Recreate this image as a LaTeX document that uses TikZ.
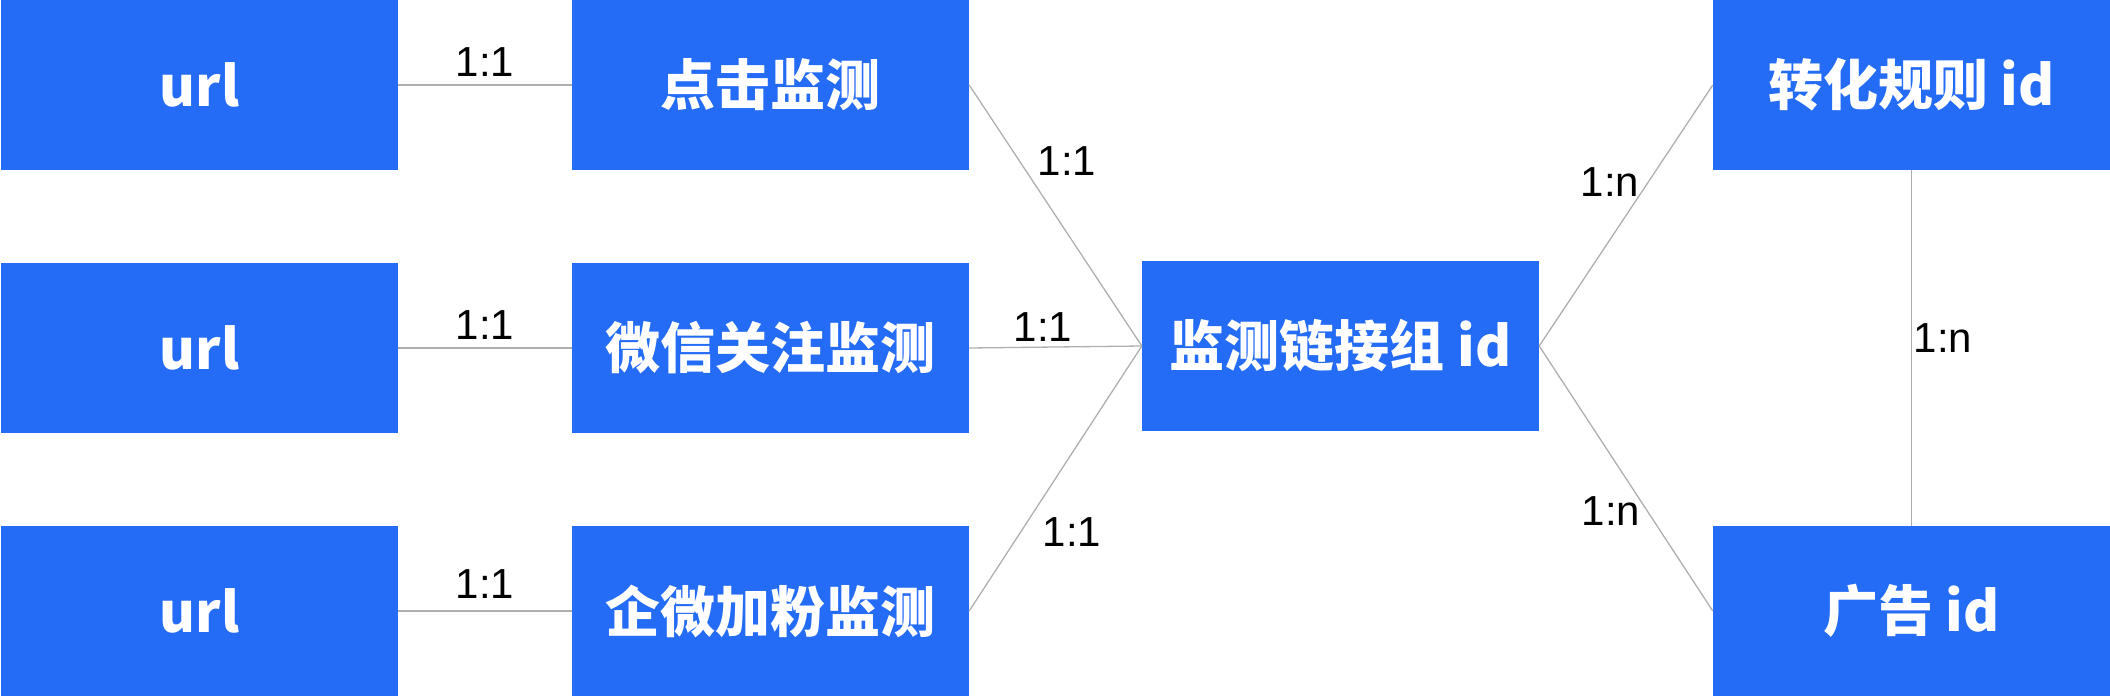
\documentclass[tikz,border=0pt]{standalone}
\usepackage{fontspec}
\setmainfont{Liberation Sans}
\newfontfamily\cjk{Noto Sans CJK SC}
\definecolor{boxblue}{RGB}{36,107,245}
\definecolor{linegray}{RGB}{175,175,175}
\begin{document}
\begin{tikzpicture}[x=1pt,y=-1pt,
  box/.style={fill=boxblue,draw=none,minimum width=397pt,minimum height=170pt,inner sep=0pt,text=white,font=\cjk\bfseries\fontsize{55}{60}\selectfont},
  lbl/.style={font=\fontsize{42}{46}\selectfont,inner sep=0pt,text=black},
  conn/.style={draw=linegray,line width=1.3pt}]
\useasboundingbox (0,0) rectangle (2110,696);
\node[box] (u1) at (199.5,85) {url};
\node[box] (u2) at (199.5,348) {url};
\node[box] (u3) at (199.5,611) {url};
\node[box] (c1) at (770.5,85) {点击监测};
\node[box] (c2) at (770.5,348) {微信关注监测};
\node[box] (c3) at (770.5,611) {企微加粉监测};
\node[box] (g) at (1340.5,346) {监测链接组 id};
\node[box] (r1) at (1911.5,85) {转化规则 id};
\node[box] (r2) at (1911.5,611) {广告 id};
\draw[conn] (u1.east) -- (c1.west);
\draw[conn] (u2.east) -- (c2.west);
\draw[conn] (u3.east) -- (c3.west);
\draw[conn] (c1.east) -- (g.west);
\draw[conn] (c2.east) -- (g.west);
\draw[conn] (c3.east) -- (g.west);
\draw[conn] (g.east) -- (r1.west);
\draw[conn] (g.east) -- (r2.west);
\draw[conn] (r1.south) -- (r2.north);
\node[lbl] (l1) at (485,62) {1:1};
\node[lbl] (l2) at (485,325) {1:1};
\node[lbl] (l3) at (485,584) {1:1};
\node[lbl] (l4) at (1067,161) {1:1};
\node[lbl] (l5) at (1043,327) {1:1};
\node[lbl] (l6) at (1072,532) {1:1};
\node[lbl] (l7) at (1610,182) {1:n};
\node[lbl] (l8) at (1611,511) {1:n};
\node[lbl] (l9) at (1943,338) {1:n};
\end{tikzpicture}
\end{document}
